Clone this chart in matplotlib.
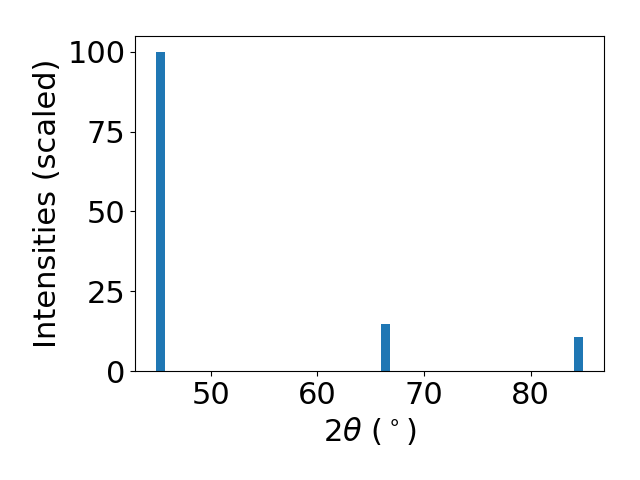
import matplotlib
matplotlib.use('Agg')
import matplotlib.pyplot as plt

# peak positions (2theta, degrees) and scaled intensities
two_theta = [45.3, 66.4, 84.5]
intensities = [100.0, 14.7, 10.6]

plt.rcParams['font.size'] = 22

fig, ax = plt.subplots(figsize=(6.4, 4.8), dpi=100)
ax.bar(two_theta, intensities, width=0.8, color='#1f77b4')
ax.set_xlabel(r'$2\theta$ ($^\circ$)')
ax.set_ylabel('Intensities (scaled)')
ax.set_yticks([0, 25, 50, 75, 100])
ax.set_xticks([50, 60, 70, 80])
fig.subplots_adjust(left=0.211, right=0.944, top=0.925, bottom=0.227)
plt.savefig('out.png')
